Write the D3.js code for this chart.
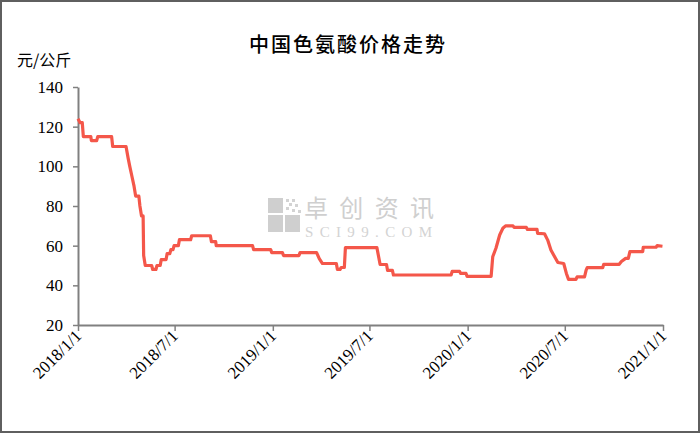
<!DOCTYPE html>
<html><head><meta charset="utf-8">
<script src="https://cdn.jsdelivr.net/npm/d3@7"></script>
<style>
html,body{margin:0;padding:0;background:#fff;}
svg{display:block;}
</style></head>
<body>
<svg id="chart" width="700" height="433"></svg>
<script>
const title = "中国色氨酸价格走势";
const unitLabel = "元/公斤";
const dates = [
"2018-01-01","2018-01-05","2018-01-09","2018-01-11","2018-01-25","2018-01-26","2018-02-05","2018-02-07",
"2018-03-05","2018-03-07","2018-04-01","2018-04-05","2018-04-08","2018-04-12","2018-04-16","2018-04-19",
"2018-04-25","2018-04-27","2018-04-30","2018-05-03","2018-05-04","2018-05-07","2018-05-19","2018-05-21",
"2018-05-27","2018-05-29","2018-06-04","2018-06-06","2018-06-15","2018-06-17","2018-06-22","2018-06-24",
"2018-06-28","2018-06-30","2018-07-08","2018-07-10","2018-07-31","2018-08-02","2018-09-06","2018-09-08",
"2018-09-16","2018-09-17","2018-11-24","2018-11-26","2018-12-28","2018-12-30","2019-01-19","2019-01-21",
"2019-02-19","2019-02-21","2019-03-24","2019-03-29","2019-04-04","2019-04-30","2019-05-02","2019-05-07",
"2019-05-09","2019-05-15","2019-05-17","2019-07-15","2019-07-21","2019-08-02","2019-08-04","2019-08-13",
"2019-08-15","2019-12-01","2019-12-03","2019-12-17","2019-12-19","2019-12-29","2019-12-31","2020-02-14",
"2020-02-17","2020-02-23","2020-03-01","2020-03-07","2020-03-12","2020-03-26","2020-03-28","2020-04-20",
"2020-04-22","2020-05-10","2020-05-11","2020-05-24","2020-05-30","2020-06-05","2020-06-12","2020-06-18",
"2020-06-29","2020-07-04","2020-07-08","2020-07-22","2020-07-24","2020-08-07","2020-08-10","2020-08-12",
"2020-09-10","2020-09-12","2020-10-11","2020-10-15","2020-10-23","2020-10-28","2020-10-31","2020-11-24",
"2020-11-25","2020-12-19","2020-12-21","2020-12-31"
];
const prices = [
124,122,122,115,115,113,113,115,
115,110,110,104,100,95,90,85,
85,80,75,75,55,50,50,48,
48,50,50,53,53,56,56,58,
58,60,60,63,63,65,65,62,
62,60,60,58,58,56.5,56.5,55,
55,56.5,56.5,53.5,51,51,48,48,
49,49,59,59,50.5,50.5,47.5,47.5,
45.2,45.2,47,47,46,46,44.5,44.5,
54.4,58.7,65.4,68.8,70,70,69.2,69.2,
68.2,68.2,66.2,66,62.8,57.8,54.4,51.5,
51,46,43,43,44.3,44.3,47.7,48.9,
48.9,50.6,50.6,52,53.6,53.6,57,57,
59.2,59.2,60,59.7
];
const xTickLabels = ["2018/1/1","2018/7/1","2019/1/1","2019/7/1","2020/1/1","2020/7/1","2021/1/1"];
const yTicks = [20,40,60,80,100,120,140];

const svg = d3.select("#chart");
const W = 700, H = 433;
const m = {left:78, right:37, top:87, bottom:108};
const parse = d3.timeParse("%Y-%m-%d");
const tickParse = d3.timeParse("%Y/%m/%d");
const data = dates.map((d,i)=>({date:parse(d), v:prices[i]}));

const x = d3.scaleTime().domain([parse("2018-01-01"), parse("2021-01-01")]).range([m.left, W-m.right]);
const y = d3.scaleLinear().domain([20,140]).range([H-m.bottom, m.top]);

// frame
svg.append("rect").attr("x",1).attr("y",1).attr("width",W-2).attr("height",H-2)
  .attr("fill","#fff").attr("stroke","#5f5f5f").attr("stroke-width",2);

// watermark
const wm = svg.append("g");
const sq = [[268,198,15,15],[268,215,15,17],[285,215,15,17]];
sq.forEach(s=>wm.append("rect").attr("x",s[0]).attr("y",s[1]).attr("width",s[2]).attr("height",s[3]).attr("fill","#cfcfcf"));
[[286,199],[292,199],[289,203],[295,204],[286,207],[292,209],[298,210]].forEach(p=>
  wm.append("rect").attr("x",p[0]).attr("y",p[1]).attr("width",3).attr("height",3).attr("fill","#d3d3d3"));
wm.append("text").attr("x",304).attr("y",217).text("卓创资讯")
  .attr("font-family","Noto Sans CJK SC").attr("font-size",24).attr("fill","#cfcfcf").attr("textLength",130);
wm.append("text").attr("x",305).attr("y",237).text("SCI99.COM")
  .attr("font-family","Liberation Serif").attr("font-size",15).attr("fill","#d3d3d3").attr("textLength",127);

// title
svg.append("text").attr("x",348).attr("y",52).attr("text-anchor","middle")
  .attr("font-family","Noto Sans CJK SC").attr("font-size",20).attr("font-weight","500")
  .attr("letter-spacing",2).attr("fill","#000").text(title);
svg.append("text").attr("x",17).attr("y",66)
  .attr("font-family","Noto Sans CJK SC").attr("font-size",16).attr("fill","#000").text(unitLabel);

// axes
const yAxis = svg.append("g").attr("transform",`translate(${m.left},0)`)
  .call(d3.axisLeft(y).tickValues(yTicks).tickSize(5).tickSizeOuter(0).tickPadding(10));
const xAxis = svg.append("g").attr("transform",`translate(0,${H-m.bottom})`)
  .call(d3.axisBottom(x).tickValues(xTickLabels.map(s=>tickParse(s))).tickSize(6).tickSizeOuter(0)
  .tickFormat((d,i)=>xTickLabels[i]));
[yAxis,xAxis].forEach(g=>{
  g.select(".domain").attr("stroke","#808080").attr("stroke-width",2);
  g.selectAll(".tick line").attr("stroke","#808080").attr("stroke-width",1.5);
  g.selectAll("text").attr("font-family","Liberation Serif").attr("font-size",17).attr("fill","#000");
});
xAxis.selectAll("text").attr("text-anchor","end").attr("dy",0).attr("y",0)
  .attr("transform","translate(4,12) rotate(-45)");

// line
const line = d3.line().x(d=>x(d.date)).y(d=>y(d.v));
svg.append("path").datum(data).attr("d",line).attr("fill","none")
  .attr("stroke","#f4574a").attr("stroke-width",3.2).attr("stroke-linejoin","round");
</script>
</body></html>
